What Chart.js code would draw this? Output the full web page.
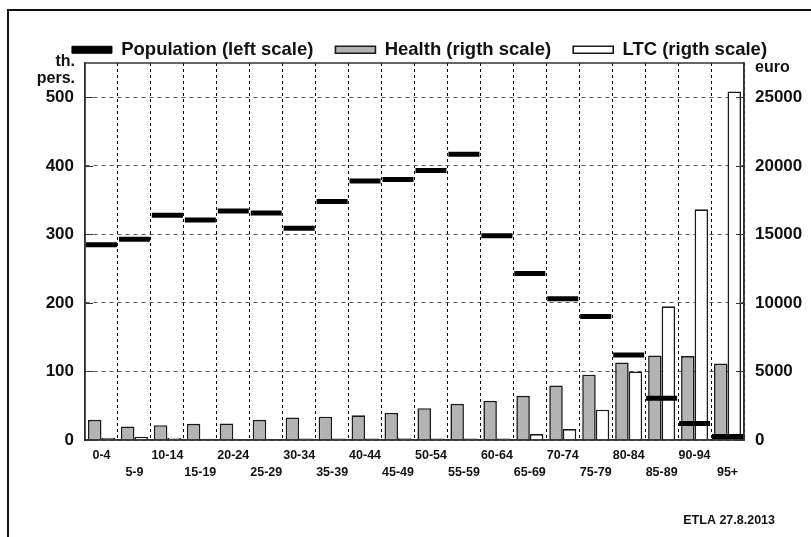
<!DOCTYPE html>
<html>
<head>
<meta charset="utf-8">
<script src="https://cdn.jsdelivr.net/npm/chart.js@4.4.1/dist/chart.umd.min.js"></script>
<style>
  html, body { margin: 0; padding: 0; background: #fff; }
  #wrap { width: 811px; height: 537px; }
</style>
</head>
<body>
<div id="wrap"><canvas id="c" width="811" height="537"></canvas></div>
<script>
// Age groups on the horizontal axis
const ageGroups = ['0-4', '5-9', '10-14', '15-19', '20-24', '25-29', '30-34', '35-39', '40-44', '45-49',
  '50-54', '55-59', '60-64', '65-69', '70-74', '75-79', '80-84', '85-89', '90-94', '95+'];

// Population, thousand persons (left scale)
const population = [285, 293, 328, 321, 334, 331, 309, 348, 378, 380,
  393, 417, 298, 243, 206, 180, 124, 61, 24, 5];

// Health expenditure per person, euro (right scale)
const healthCost = [1470, 985, 1085, 1180, 1205, 1475, 1645, 1695, 1800, 1985,
  2325, 2640, 2860, 3225, 3980, 4760, 5660, 6170, 6125, 5585];

// Long-term care expenditure per person, euro (right scale)
const ltcCost = [160, 230, 170, 90, 60, 60, 110, 110, 110, 135,
  110, 110, 110, 430, 795, 2205, 5000, 9750, 16830, 25420];

// Tick values of the two vertical axes
const leftTicks = [0, 100, 200, 300, 400, 500];
const rightTicks = [0, 5000, 10000, 15000, 20000, 25000];
const leftMax = 550;
const rightMax = 27500;

const FONT = "'Liberation Sans', Arial, Helvetica, sans-serif";
Chart.defaults.font.family = FONT;
Chart.defaults.font.weight = 'bold';
Chart.defaults.color = '#111';

// Frame, inner tick marks and the free-standing captions
const decorations = {
  id: 'decorations',
  beforeDraw(chart) {
    const ctx = chart.ctx;
    ctx.save();
    ctx.fillStyle = '#fff';
    ctx.fillRect(0, 0, chart.width, chart.height);
    ctx.restore();
  },
  afterDraw(chart) {
    const ctx = chart.ctx;
    const a = chart.chartArea;
    const yL = chart.scales.y;
    ctx.save();
    // outer page frame
    ctx.strokeStyle = '#111';
    ctx.lineWidth = 2;
    ctx.beginPath();
    ctx.moveTo(8, chart.height);
    ctx.lineTo(8, 10);
    ctx.lineTo(chart.width, 10);
    ctx.stroke();
    // plot frame
    ctx.strokeStyle = '#333';
    ctx.lineWidth = 1.5;
    ctx.strokeRect(a.left, a.top, a.right - a.left, a.bottom - a.top);
    // short solid ticks inside the frame
    ctx.lineWidth = 1.2;
    leftTicks.forEach(v => {
      const py = Math.round(yL.getPixelForValue(v)) + 0.5;
      ctx.beginPath();
      ctx.moveTo(a.left, py); ctx.lineTo(a.left + 8, py);
      ctx.moveTo(a.right - 8, py); ctx.lineTo(a.right, py);
      ctx.stroke();
    });
    // captions
    ctx.fillStyle = '#111';
    ctx.font = "bold 16px " + FONT;
    ctx.textBaseline = 'alphabetic';
    ctx.textAlign = 'right';
    ctx.fillText('th.', 75, 66);
    ctx.fillText('pers.', 75, 83);
    ctx.textAlign = 'left';
    ctx.fillText('euro', 755, 72);
    ctx.font = "bold 12.5px " + FONT;
    ctx.textAlign = 'right';
    ctx.fillText('ETLA 27.8.2013', 775, 524);
    ctx.restore();
  }
};

new Chart(document.getElementById('c'), {
  type: 'bar',
  data: {
    labels: ageGroups,
    datasets: [
      {
        type: 'line',
        label: 'Population (left scale)',
        data: population,
        yAxisID: 'y',
        order: 0,
        showLine: false,
        pointStyle: 'line',
        pointRadius: 15.5,
        pointHoverRadius: 15.5,
        pointBorderWidth: 5,
        pointBorderColor: '#000',
        pointBackgroundColor: '#000',
        borderColor: '#000',
        backgroundColor: '#000',
        borderWidth: 1
      },
      {
        label: 'Health (rigth scale)',
        data: healthCost,
        yAxisID: 'y1',
        order: 1,
        backgroundColor: '#b3b3b3',
        borderColor: '#1a1a1a',
        borderWidth: 1.6,
        categoryPercentage: 0.82,
        barPercentage: 1.0
      },
      {
        label: 'LTC (rigth scale)',
        data: ltcCost,
        yAxisID: 'y1',
        order: 2,
        backgroundColor: '#ffffff',
        borderColor: '#1a1a1a',
        borderWidth: 1.6,
        categoryPercentage: 0.82,
        barPercentage: 1.0
      }
    ]
  },
  options: {
    responsive: false,
    animation: false,
    devicePixelRatio: 1,
    layout: { padding: { left: 28, right: 0, top: 18.5, bottom: 0 } },
    plugins: {
      tooltip: { enabled: false },
      legend: {
        position: 'top',
        align: 'center',
        maxHeight: 44.5,
        labels: {
          boxWidth: 40,
          boxHeight: 7,
          padding: 22,
          color: '#111',
          font: { size: 18.5, weight: 'bold' }
        }
      }
    },
    scales: {
      x: {
        offset: true,
        afterFit(s) { s.height = 97; },
        grid: { display: true, offset: true, color: '#000', lineWidth: 1, drawTicks: false },
        border: { display: true, color: '#333', width: 1.5, dash: [3, 3] },
        ticks: {
          autoSkip: false,
          maxRotation: 0,
          padding: 7,
          font: { size: 12.5, weight: 'bold', lineHeight: 1.35 },
          color: '#111',
          callback(value, index) {
            const lab = this.getLabelForValue(value);
            return index % 2 === 0 ? [lab, ''] : ['', lab];
          }
        }
      },
      y: {
        position: 'left',
        min: 0,
        max: leftMax,
        afterFit(s) { s.width = 57; },
        afterBuildTicks(s) { s.ticks = leftTicks.map(v => ({ value: v })); },
        grid: { color: '#555', lineWidth: 1, drawTicks: false },
        border: { display: true, color: '#333', width: 1.5, dash: [4, 4] },
        ticks: {
          padding: 11,
          font: { size: 17, weight: 'bold' },
          color: '#111',
          callback(v) { return String(v); }
        }
      },
      y1: {
        position: 'right',
        min: 0,
        max: rightMax,
        afterFit(s) { s.width = 67; },
        afterBuildTicks(s) { s.ticks = rightTicks.map(v => ({ value: v })); },
        grid: { drawOnChartArea: false, drawTicks: false },
        border: { display: true, color: '#333', width: 1.5 },
        ticks: {
          padding: 11,
          font: { size: 17, weight: 'bold' },
          color: '#111',
          callback(v) { return String(v); }
        }
      }
    }
  },
  plugins: [decorations]
});
</script>
</body>
</html>
